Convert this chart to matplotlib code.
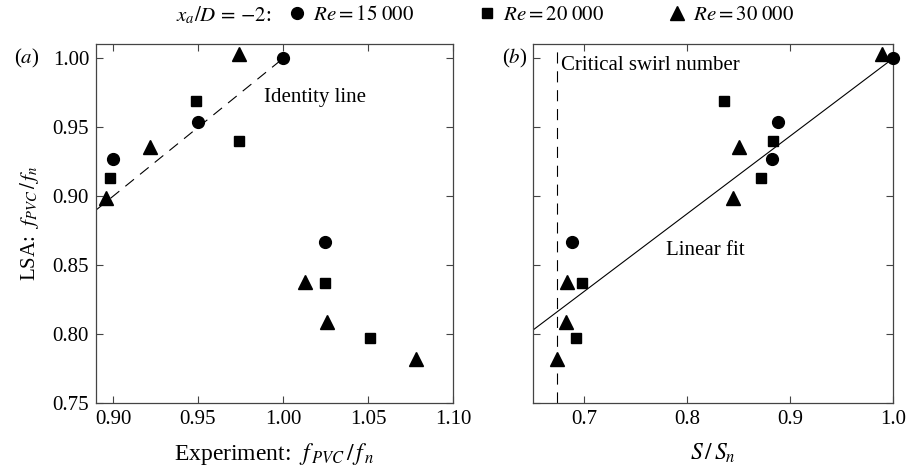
import matplotlib
matplotlib.use("Agg")
import matplotlib.pyplot as plt
from matplotlib.lines import Line2D

plt.rcParams['font.family'] = ['Liberation Serif', 'DejaVu Serif']
plt.rcParams['mathtext.fontset'] = 'stix'
plt.rcParams['font.size'] = 15

# data: (a) experiment vs LSA, (b) swirl number vs LSA
exp_15k = [1.000, 0.950, 0.900, 1.025]
lsa_15k = [1.000, 0.954, 0.927, 0.867]
swirl_15k = [1.000, 0.888, 0.882, 0.688]

exp_20k = [0.949, 0.974, 0.898, 1.025, 1.051]
lsa_20k = [0.969, 0.940, 0.913, 0.837, 0.797]
swirl_20k = [0.836, 0.883, 0.872, 0.698, 0.692]

exp_30k = [0.974, 0.922, 0.896, 1.013, 1.026, 1.078]
lsa_30k = [1.003, 0.936, 0.899, 0.838, 0.809, 0.782]
swirl_30k = [0.989, 0.850, 0.844, 0.683, 0.682, 0.673]

labels = ['$Re = 15\\ 000$', '$Re = 20\\ 000$', '$Re = 30\\ 000$']
markers = ['o', 's', '^']
sizes = [8.5, 7.5, 10]

critical_swirl = 0.673
fit_slope = 0.563
fit_intercept = 1.0 - 0.563

fig = plt.figure(figsize=(9.07, 4.74), dpi=100)
ax1 = fig.add_axes([96/907, 71/474, 357/907, 359/474])
ax2 = fig.add_axes([533/907, 71/474, 360/907, 359/474])

groups_a = [(exp_15k, lsa_15k), (exp_20k, lsa_20k), (exp_30k, lsa_30k)]
groups_b = [(swirl_15k, lsa_15k), (swirl_20k, lsa_20k), (swirl_30k, lsa_30k)]

for (x, y), m, s in zip(groups_a, markers, sizes):
    ax1.plot(x, y, ls='none', marker=m, ms=s, color='k', zorder=3, clip_on=False)
for (x, y), m, s in zip(groups_b, markers, sizes):
    ax2.plot(x, y, ls='none', marker=m, ms=s, color='k', zorder=3, clip_on=False)

# identity line
ax1.plot([0.89, 1.0], [0.89, 1.0], color='k', lw=0.8, ls=(0, (10, 7)), zorder=2)
ax1.text(0.989, 0.972, 'Identity line', va='center', ha='left')

# linear fit and critical swirl number
ax2.plot([0.65, 1.0], [fit_intercept + fit_slope*0.65, fit_intercept + fit_slope*1.0],
         color='k', lw=0.8, zorder=2)
ax2.axvline(critical_swirl, color='k', lw=0.8, ls=(0, (10, 7)), zorder=2)
ax2.text(0.677, 0.995, 'Critical swirl number', va='center', ha='left')
ax2.text(0.779, 0.861, 'Linear fit', va='center', ha='left')

ax1.set_xlim(0.89, 1.10)
ax1.set_xticks([0.90, 0.95, 1.00, 1.05, 1.10])
ax1.set_xticklabels(['0.90', '0.95', '1.00', '1.05', '1.10'])
ax2.set_xlim(0.65, 1.0)
ax2.set_xticks([0.7, 0.8, 0.9, 1.0])
ax2.set_xticklabels(['0.7', '0.8', '0.9', '1.0'])

for ax in (ax1, ax2):
    ax.set_ylim(0.75, 1.0105)
    ax.set_yticks([0.75, 0.80, 0.85, 0.90, 0.95, 1.00])
    ax.tick_params(direction='in', top=True, right=True, length=5, width=0.8,
                   color='#444444', pad=5)
    for sp in ax.spines.values():
        sp.set_color('#444444')
        sp.set_linewidth(0.9)

ax1.set_yticklabels(['0.75', '0.80', '0.85', '0.90', '0.95', '1.00'])
ax2.set_yticklabels([])

ax1.set_xlabel('Experiment:  $f_{\\,PVC}\\,/\\,f_{\\,n}$', fontsize=17, labelpad=9)
ax2.set_xlabel('$S\\,/\\,S_n$', fontsize=17, labelpad=9)
ax1.set_ylabel('LSA:  $f_{PVC}\\,/\\,f_n$', labelpad=8)

fig.text(39/907, 1 - 58/474, '($a$)', ha='right', va='center')
fig.text(527/907, 1 - 58/474, '($b$)', ha='right', va='center')

# legend row
handles = [Line2D([], [], ls='none', marker=m, ms=s, color='k')
           for m, s in zip(markers, sizes)]
fig.legend(handles, labels, loc='center left', bbox_to_anchor=(287/907, 1 - 15/474),
           ncol=3, frameon=False, handlelength=1.0, handletextpad=0.25,
           columnspacing=3.0, borderpad=0, borderaxespad=0)
fig.text(271/907, 1 - 15/474, '$x_a/D\\,=\\,{-2}$:', ha='right', va='center')

plt.savefig('out.png', dpi=100)
